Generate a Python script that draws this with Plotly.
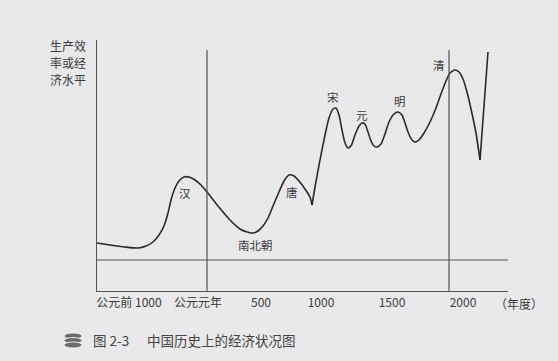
import plotly.graph_objects as go

# ---- data (schematic units: x = time position along axis, y = economic level) ----
curve_x = [0, 13, 28, 41, 49, 56, 62, 67, 71, 74, 78, 82, 87, 92, 98, 104, 110, 121, 133, 143,
           150, 156, 161, 166, 171, 176, 182, 187, 192, 197, 202, 208, 213, 215,
           218, 223, 228, 232, 236, 239, 242, 245, 248, 251, 254, 258, 262, 265, 268, 271,
           274, 277, 280, 284, 288, 292, 297, 301, 305, 308, 311, 315, 318, 322, 327, 333,
           339, 344, 349, 353, 358, 362, 366, 370, 374, 379, 383, 391]
curve_y = [48, 46, 44, 43, 45, 49, 56, 65, 78, 91, 103, 110, 114, 114, 111, 106, 99, 85, 71, 62,
           59, 58, 60, 65, 73, 85, 99, 110, 116, 115, 110, 102, 94, 86,
           104, 131, 156, 173, 182, 183, 176, 161, 148, 143, 145, 156, 165, 168, 167, 159,
           150, 145, 144, 147, 157, 169, 177, 179, 176, 168, 159, 151, 149, 151, 158, 169,
           183, 197, 210, 218, 221, 219, 212, 199, 182, 158, 131, 239]

dynasty_names = ["汉", "南北朝", "唐", "宋", "元", "明", "清"]
dynasty_x = [88, 158, 195, 236, 265, 303, 342]
dynasty_y = [98, 46, 99, 194, 176, 190, 226]

tick_vals = [32, 101, 164, 224, 295, 366]
tick_text = ["公元前 1000", "公元元年", "500", "1000", "1500", "2000"]

ref_vlines_x = [110, 352]
ref_vline_top = 241
ref_hline_y = 31

X_MAX, Y_MAX = 411, 251
W, H = 558, 361
ML, MR, MT, MB = 97, 50, 40, 70

CJK = "Noto Sans CJK SC, Noto Sans, sans-serif"
BG = "#e9e9eb"
INK = "#3a3a3a"

fig = go.Figure()

# split curve into smooth pieces at the two sharp cusps
cusps = [curve_x.index(215), curve_x.index(383)]
bounds = [0] + cusps + [len(curve_x) - 1]
for a, b in zip(bounds[:-1], bounds[1:]):
    fig.add_trace(go.Scatter(
        x=curve_x[a:b + 1], y=curve_y[a:b + 1], mode="lines",
        line=dict(color="#2a2a2a", width=1.6, shape="spline", smoothing=0.6),
        hoverinfo="skip", showlegend=False))

# reference lines
for vx in ref_vlines_x:
    fig.add_shape(type="line", x0=vx, x1=vx, y0=0, y1=ref_vline_top,
                  xref="x", yref="y", line=dict(color="#555", width=1.2))
fig.add_shape(type="line", x0=0, x1=X_MAX, y0=ref_hline_y, y1=ref_hline_y,
              xref="x", yref="y", line=dict(color="#555", width=1.2))

# dynasty labels
for name, dx, dy in zip(dynasty_names, dynasty_x, dynasty_y):
    fig.add_annotation(x=dx, y=dy, text=name, showarrow=False,
                       font=dict(family=CJK, size=11.5, color=INK))

# y-axis title (three lines, right aligned)
for i, line in enumerate(["生产效", "率或经", "济水平"]):
    fig.add_annotation(x=0, y=1, xref="paper", yref="paper", text=line,
                       xanchor="right", yanchor="middle", xshift=-9, yshift=-5 - 17 * i,
                       showarrow=False, font=dict(family=CJK, size=12, color=INK))

# unit label at end of x axis
fig.add_annotation(x=1, y=0, xref="paper", yref="paper", text="（年度）",
                   xanchor="center", yanchor="middle", xshift=11, yshift=-12,
                   showarrow=False, font=dict(family=CJK, size=12, color=INK))

# caption
def px_to_paper(px, py):
    return (px - ML) / (W - ML - MR), (H - MB - py) / (H - MT - MB)

cx, cy = px_to_paper(91, 340)
fig.add_annotation(x=cx, y=cy, xref="paper", yref="paper", text="图 2-3",
                   xanchor="left", yanchor="middle", showarrow=False,
                   font=dict(family=CJK, size=13.5, color="#444"))
cx, cy = px_to_paper(145, 340)
fig.add_annotation(x=cx, y=cy, xref="paper", yref="paper", text="中国历史上的经济状况图",
                   xanchor="left", yanchor="middle", showarrow=False,
                   font=dict(family=CJK, size=13.5, color="#444"))

# coin-stack icon
for top in [333, 337.5, 342]:
    x0, y1 = px_to_paper(64, top)
    x1, y0 = px_to_paper(82, top + 6)
    fig.add_shape(type="circle", xref="paper", yref="paper", x0=x0, x1=x1, y0=y0, y1=y1,
                  fillcolor="#6a6a6a", line=dict(color="#e9e9eb", width=1))

fig.update_xaxes(range=[0, X_MAX], showgrid=False, zeroline=False,
                 showline=True, linecolor="#555", linewidth=1.2,
                 tickmode="array", tickvals=tick_vals, ticktext=tick_text,
                 ticks="", tickfont=dict(family=CJK, size=12, color=INK))
fig.update_yaxes(range=[0, Y_MAX], showgrid=False, zeroline=False,
                 showline=True, linecolor="#555", linewidth=1.2,
                 showticklabels=False, ticks="")

fig.update_layout(width=W, height=H, margin=dict(l=ML, r=MR, t=MT, b=MB),
                  paper_bgcolor=BG, plot_bgcolor=BG, showlegend=False)

fig.write_html("out.html", config={"displayModeBar": False},
               post_script="document.body.style.margin='0';document.body.style.background='%s';" % BG)
